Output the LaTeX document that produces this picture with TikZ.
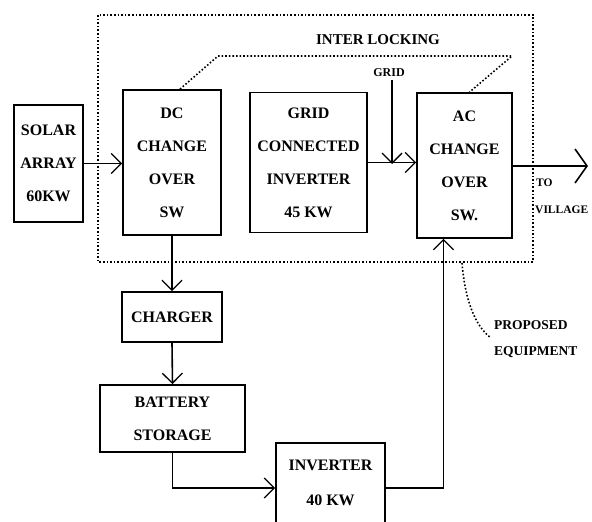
\documentclass[tikz,border=0pt]{standalone}
\usepackage{fontspec}
\setmainfont{Liberation Serif}
\usetikzlibrary{arrows.meta}
\begin{document}
\begin{tikzpicture}[x=1pt,y=-1pt,
  box/.style={draw,line width=1.8pt,align=center,inner sep=0pt,font=\bfseries\fontsize{16}{33}\selectfont},
  txt/.style={font=\bfseries\fontsize{16}{33}\selectfont,inner sep=0pt},
  conn/.style={line width=1.2pt,-{Straight Barb[length=10pt,width=20pt,line width=1.3pt]}},
  dots/.style={line width=1.6pt,dotted},
  lbl/.style={font=\bfseries\fontsize{13.5}{27}\selectfont,inner sep=0pt},
  slbl/.style={font=\bfseries\fontsize{11.5}{27}\selectfont,inner sep=0pt}]
\useasboundingbox (0,0) rectangle (592,522);
% boxes
\node[box,minimum width=69pt,minimum height=117pt] (solar) at (48.5,163.5) {SOLAR\\ARRAY\\60KW};
\node[box,minimum width=98pt,minimum height=145pt] (dc) at (172,162.5) {DC\\CHANGE\\OVER\\SW};
\node[box,minimum width=117pt,minimum height=140pt] (gci) at (308.5,162.5) {GRID\\CONNECTED\\INVERTER\\45 KW};
\node[box,minimum width=95pt,minimum height=145pt] (ac) at (464.5,165.5) {AC\\CHANGE\\OVER\\SW.};
\node[box,minimum width=100pt,minimum height=50pt] (charger) at (172,317) {CHARGER};
\node[box,minimum width=145pt,minimum height=67pt] (battery) at (172.5,418.5) {BATTERY\\STORAGE};
\node[box,minimum width=109pt,minimum height=90pt] (inv) at (330.5,488) {};
\node[txt] (invtxt1) at (330.5,465) {INVERTER};
\node[txt] (invtxt2) at (330.5,500) {40 KW};
% outer dotted box
\draw[dots] (98,15) rectangle (533,262);
\node[font=\bfseries\fontsize{15}{17}\selectfont,inner sep=0pt] (il) at (378,40) {INTER LOCKING};
% interlocking
\coordinate (ila) at (218,56);
\coordinate (ilb) at (512,56);
\draw[dots] ([xshift=8pt]dc.north) -- (ila) -- (ilb) -- ([xshift=5pt]ac.north);
% grid
\node[font=\bfseries\fontsize{12}{14}\selectfont,inner sep=0pt] (grid) at (389,73) {GRID};
\coordinate (gridin) at (392,164);
\draw[conn] ([yshift=-3pt]grid.south -| gridin) -- (gridin);
% connectors
\draw[conn] (solar.east) -- (solar.east -| dc.west);
\draw[conn] (gci.east) -- (gci.east -| ac.west);
\coordinate (out) at (588,166);
\draw[line width=1.2pt,-{Straight Barb[length=12pt,width=34pt,line width=1.6pt]}] (ac.east |- out) -- (out);
\node[slbl,anchor=west] (to) at (536,183) {TO};
\node[slbl,anchor=west] (vil) at (535,210) {VILLAGE};
\draw[conn,line width=1.8pt] (dc.south) -- (charger.north);
\draw[conn,line width=1.6pt] (charger.south) -- (battery.north);
\draw[conn] (battery.south) |- (inv.west);
\draw[conn,line width=1.8pt] (inv.east) -| ([xshift=-21pt]ac.south);
% proposed equipment
\coordinate (pa) at (462,263);
\coordinate (pb) at (491,338);
\draw[dots] (pa) .. controls (465,300) and (475,326) .. (pb);
\node[lbl,anchor=west] (prop) at (494,325) {PROPOSED};
\node[lbl,anchor=west] (equip) at (494,352) {EQUIPMENT};
\end{tikzpicture}
\end{document}
